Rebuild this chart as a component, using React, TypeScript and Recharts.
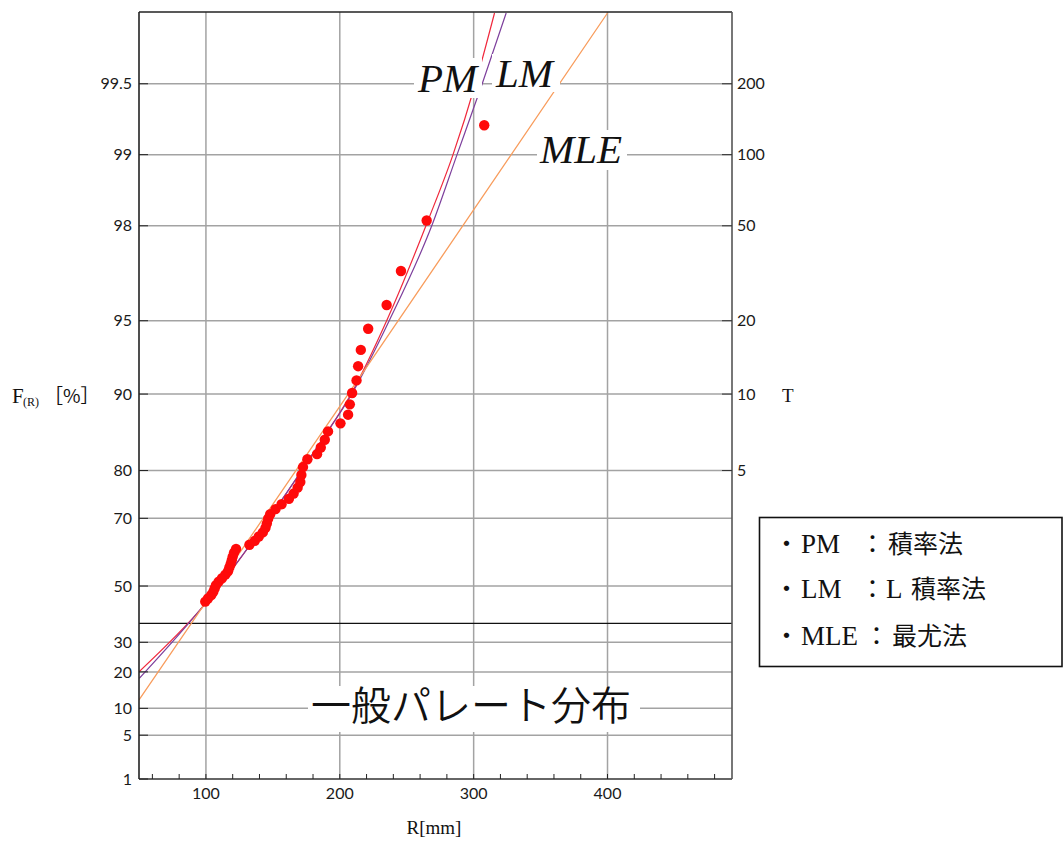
import React from 'react';
import { ComposedChart, XAxis, YAxis, Line, Scatter, ReferenceLine } from 'recharts';

// observed rainfall R [mm] and plotting position F [%]
const OBS_R = [
  99.5, 101.5, 104.0, 105.5, 106.5, 107.5, 109.5, 112.0, 114.5, 116.5,
  117.5, 118.5, 119.3, 120.0, 121.0, 122.5, 132.5, 136.5, 139.5, 142.5,
  144.5, 145.5, 146.5, 148.0, 152.0, 156.5, 162.0, 165.5, 168.5, 170.5,
  171.3, 172.5, 175.8, 183.0, 185.8, 188.8, 191.2, 200.5, 206.2, 207.5,
  209.2, 212.5, 213.7, 215.7, 221.2, 235.0, 245.7, 264.9, 307.9,
];
const OBS_F = [
  44.6, 45.7, 46.9, 48.0, 49.2, 50.3, 51.5, 52.6, 53.8, 54.9,
  56.1, 57.2, 58.4, 59.5, 60.7, 61.8, 63.0, 64.1, 65.3, 66.4,
  67.6, 68.7, 69.9, 71.0, 72.2, 73.3, 74.5, 75.6, 76.8, 77.9,
  79.2, 80.6, 81.9, 82.7, 83.7, 84.8, 85.9, 86.9, 87.9, 89.0,
  90.1, 91.2, 92.3, 93.4, 94.6, 95.7, 96.9, 98.1, 99.25,
];

// fitted curves
const PM_R = [50.2, 98.9, 140.1, 185.0, 208.8, 235.0, 265.9, 284.6, 301.3, 315.6];
const PM_F = [20.1, 43.4, 66.6, 84.3, 90.1, 95.0, 98.1, 99.0, 99.5, 99.75];
const LM_R = [50.2, 97.4, 140.1, 185.0, 209.4, 236.9, 268.7, 287.6, 306.4, 324.3];
const LM_F = [18.0, 42.7, 66.6, 84.3, 90.1, 95.0, 98.0, 99.0, 99.5, 99.75];
const MLE_R = [50, 215.2, 400];
const MLE_F = [12.0, 91.5, 99.75];

const F_TICKS = [1, 5, 10, 20, 30, 50, 70, 80, 90, 95, 98, 99, 99.5];
const T_TICKS = [5, 10, 20, 50, 100, 200];
const R_TICKS = [60, 80, 100, 120, 140, 160, 180, 200, 220, 240, 260, 280, 300, 320, 340, 360, 380, 400, 420, 440, 460, 480];
const R_GRID = [100, 200, 300, 400];

// Gumbel reduced variate
const gumbel = (p: number) => -Math.log(-Math.log(p / 100));
const Y_MIN = gumbel(1);
const Y_MAX = 6.0;

const toPts = (rs: number[], fs: number[]) => rs.map((r, i) => ({ r, y: gumbel(fs[i]) }));
const obsData = toPts(OBS_R, OBS_F);
const pmData = toPts(PM_R, PM_F);
const lmData = toPts(LM_R, LM_F);
const mleData = toPts(MLE_R, MLE_F);

const fTickVals = F_TICKS.map(gumbel);
const tTickVals = T_TICKS.map((t) => gumbel(100 - 100 / t));

const fLabel = (v: number) => {
  const i = fTickVals.findIndex((g) => Math.abs(g - v) < 1e-6);
  return i < 0 ? '' : String(F_TICKS[i]);
};
const tLabel = (v: number) => {
  const i = tTickVals.findIndex((g) => Math.abs(g - v) < 1e-6);
  return i < 0 ? '' : String(T_TICKS[i]);
};

const tickFont = { fill: '#1a1a1a', fontSize: 16, fontFamily: 'Lato, sans-serif' };
const serif = "'Liberation Serif', 'Noto Sans CJK JP', serif";
const cjk = "'Noto Sans CJK JP', sans-serif";

export default function App() {
  return (
    <div style={{ position: 'absolute', left: 0, top: 0, width: 1063, height: 842, background: '#fff' }}>
      <ComposedChart width={1063} height={842} margin={{ top: 0, right: 271, bottom: 33, left: 79 }}>
        <XAxis
          type="number"
          dataKey="r"
          domain={[50, 493]}
          ticks={R_TICKS}
          interval={0}
          allowDataOverflow
          tickFormatter={(v: number) => (v % 100 === 0 ? String(v) : '')}
          tickSize={-5}
          tickMargin={14}
          height={30}
          axisLine={{ stroke: '#333', strokeWidth: 1.6 }}
          tickLine={{ stroke: '#222' }}
          tick={tickFont}
        />
        <XAxis
          xAxisId="top"
          orientation="top"
          type="number"
          dataKey="r"
          domain={[50, 493]}
          ticks={R_TICKS}
          interval={0}
          tick={false}
          tickSize={-5}
          height={12}
          axisLine={{ stroke: '#222', strokeWidth: 1.4 }}
          tickLine={{ stroke: '#222' }}
        />
        <YAxis
          type="number"
          dataKey="y"
          domain={[Y_MIN, Y_MAX]}
          ticks={fTickVals}
          interval={0}
          allowDataOverflow
          tickFormatter={fLabel}
          tickSize={-9}
          tickMargin={16}
          width={60}
          axisLine={{ stroke: '#222', strokeWidth: 1.6 }}
          tickLine={{ stroke: '#222' }}
          tick={tickFont}
        />
        <YAxis
          yAxisId="right"
          orientation="right"
          type="number"
          dataKey="y"
          domain={[Y_MIN, Y_MAX]}
          ticks={tTickVals}
          interval={0}
          allowDataOverflow
          tickFormatter={tLabel}
          tickSize={-10}
          tickMargin={15}
          width={60}
          axisLine={{ stroke: '#555', strokeWidth: 1.6 }}
          tickLine={{ stroke: '#333' }}
          tick={tickFont}
        />

        {F_TICKS.slice(1).map((f) => (
          <ReferenceLine key={`h${f}`} y={gumbel(f)} stroke="#a3a3a3" strokeWidth={1.5} />
        ))}
        {R_GRID.map((r) => (
          <ReferenceLine key={`v${r}`} x={r} stroke="#a3a3a3" strokeWidth={1.5} />
        ))}
        <ReferenceLine y={0} stroke="#111" strokeWidth={1.2} />

        <Scatter
          data={obsData}
          fill="#ff0000"
          isAnimationActive={false}
          shape={(p: any) => <circle cx={p.cx} cy={p.cy} r={5.2} fill="#ff0a0a" />}
        />
        <Line data={pmData} dataKey="y" type="monotone" stroke="#f0283c" strokeWidth={1.2} dot={false} isAnimationActive={false} />
        <Line data={lmData} dataKey="y" type="monotone" stroke="#7d3f9c" strokeWidth={1.2} dot={false} isAnimationActive={false} />
        <Line data={mleData} dataKey="y" type="linear" stroke="#f89c5c" strokeWidth={1.3} dot={false} isAnimationActive={false} />
      </ComposedChart>

      <svg width={1063} height={842} style={{ position: 'absolute', left: 0, top: 0, pointerEvents: 'none' }}>
        {/* curve labels */}
        <rect x={414} y={58} width={68} height={40} fill="#fff" />
        <text x={418} y={92} fontFamily={serif} fontStyle="italic" fontSize={41} fill="#111">PM</text>
        <rect x={492} y={54} width={68} height={38} fill="#fff" />
        <text x={496} y={87} fontFamily={serif} fontStyle="italic" fontSize={41} fill="#111">LM</text>
        <rect x={537} y={130} width={90} height={40} fill="#fff" />
        <text x={540} y={163} fontFamily={serif} fontStyle="italic" fontSize={41} fill="#111">MLE</text>

        <rect x={308} y={686} width={332} height={46} fill="#fff" />
        <text x={311} y={720} fontFamily={cjk} fontWeight={350} fontSize={40} fill="#111">一般パレート分布</text>

        {/* axis titles */}
        <text y={403} fontFamily={serif} fill="#111">
          <tspan x={12} fontSize={21}>F</tspan>
          <tspan x={23} dy={3} fontSize={12}>(R)</tspan>
          <tspan x={44} dy={-3} fontSize={19} fontFamily={cjk}>［%］</tspan>
        </text>
        <text x={782} y={402} fontFamily={serif} fontSize={19} fill="#111">T</text>
        <text x={434} y={834} textAnchor="middle" fontFamily={serif} fontSize={19} fill="#111">R[mm]</text>

        {/* method legend */}
        <rect x={759.5} y={517.5} width={302.5} height={149} fill="#fff" stroke="#111" strokeWidth={1.6} />
        <g fontSize={27} fill="#111" fontFamily={serif}>
          <text y={553}>
            <tspan x={774} fontFamily={cjk} fontSize={25}>・</tspan>
            <tspan x={801}>PM</tspan>
            <tspan x={860} fontFamily={cjk} fontSize={25}>：</tspan>
            <tspan x={888} fontFamily={cjk} fontSize={25}>積率法</tspan>
          </text>
          <text y={598}>
            <tspan x={774} fontFamily={cjk} fontSize={25}>・</tspan>
            <tspan x={801}>LM</tspan>
            <tspan x={860} fontFamily={cjk} fontSize={25}>：</tspan>
            <tspan x={886}>L</tspan>
            <tspan x={911} fontFamily={cjk} fontSize={25}>積率法</tspan>
          </text>
          <text y={645}>
            <tspan x={774} fontFamily={cjk} fontSize={25}>・</tspan>
            <tspan x={801}>MLE</tspan>
            <tspan x={864} fontFamily={cjk} fontSize={25}>：</tspan>
            <tspan x={892} fontFamily={cjk} fontSize={25}>最尤法</tspan>
          </text>
        </g>
      </svg>
    </div>
  );
}
